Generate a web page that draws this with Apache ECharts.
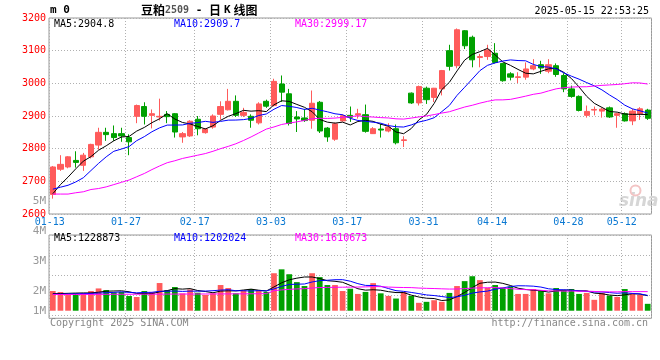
<!DOCTYPE html>
<html><head><meta charset="utf-8">
<script src="https://cdn.jsdelivr.net/npm/echarts@6/dist/echarts.min.js"></script>
<style>html,body{margin:0;padding:0;background:#fff}#c{width:660px;height:360px}</style>
</head><body><div id="c"></div><script>
const dates = ['01-13','01-14','01-15','01-16','01-17','01-20','01-21','01-22','01-23','01-24','01-27',
'02-05','02-06','02-07','02-10','02-11','02-12','02-13','02-14','02-17','02-18','02-19','02-20','02-21','02-24','02-25','02-26','02-27','02-28',
'03-03','03-04','03-05','03-06','03-07','03-10','03-11','03-12','03-13','03-14','03-17','03-18','03-19','03-20','03-21','03-24','03-25','03-26','03-27','03-28','03-31',
'04-01','04-02','04-03','04-07','04-08','04-09','04-10','04-11','04-14','04-15','04-16','04-17','04-18','04-21','04-22','04-23','04-24','04-25','04-28','04-29','04-30',
'05-06','05-07','05-08','05-09','05-12','05-13','05-14','05-15'];
const tickLabels = ['01-13','01-27','02-17','03-03','03-17','03-31','04-14','04-28','05-12'];
const opens = [2660,2737,2744,2764,2749,2775,2811,2850,2846,2846,
2834,2899,2929,2902,2897,2905,2907,2836,2839,2890,
2849,2866,2905,2919,2945,2902,2899,2879,2945,2932,
2998,2968,2897,2894,2887,2942,2863,2829,2885,2902,
2903,2904,2846,2860,2854,2861,2825,2970,2940,2985,
2957,2983,3100,3054,3161,3141,3079,3082,3092,3061,
3029,3018,3019,3044,3057,3037,3054,3024,2983,2960,
2902,2918,2915,2925,2902,2907,2885,2907,2918];
const closes = [2744,2752,2775,2758,2780,2813,2850,2843,2834,2839,
2821,2932,2899,2907,2899,2898,2851,2846,2884,2861,
2860,2900,2929,2945,2902,2911,2887,2937,2930,3006,
2973,2877,2891,2886,2939,2854,2836,2876,2901,2896,
2907,2853,2861,2857,2866,2818,2827,2940,2990,2950,
2985,3039,3052,3164,3115,3072,3082,3102,3064,3008,
3019,3020,3044,3054,3047,3057,3027,2983,2960,2917,
2914,2920,2921,2897,2907,2885,2915,2922,2893];
const lows = [2647,2732,2740,2742,2732,2770,2797,2824,2824,2821,
2780,2878,2874,2862,2886,2878,2834,2818,2836,2841,
2846,2861,2889,2917,2897,2897,2864,2874,2925,2929,
2943,2871,2851,2882,2861,2848,2821,2824,2883,2882,
2892,2849,2845,2834,2850,2813,2805,2937,2932,2937,
2943,2963,3039,3046,3105,3049,3049,3072,3061,3005,
3009,3001,3011,3040,3029,3031,3020,2973,2956,2914,
2895,2902,2895,2894,2864,2883,2872,2888,2888];
const highs = [2747,2780,2777,2792,2787,2815,2864,2864,2871,2864,
2844,2935,2942,2920,2953,2915,2909,2851,2887,2900,
2863,2905,2945,2983,2963,2925,2905,2942,2950,3014,
3024,2983,2915,2922,2978,2946,2866,2880,2905,2929,
2922,2935,2866,2876,2878,2874,2838,2972,2993,2990,
2986,3041,3118,3168,3163,3146,3090,3118,3123,3062,
3034,3034,3064,3074,3069,3074,3061,3031,2993,2963,
2932,2929,2925,2929,2909,2911,2922,2927,2922];
const volumes = [1675000,1590000,1335000,1471000,1505000,1675000,1896000,1760000,1556000,1590000,
1250000,1165000,1675000,1590000,2355000,1760000,2015000,1471000,1811000,1531000,
1344000,1480000,2185000,1930000,1480000,1735000,1845000,1735000,1599000,3189000,
3520000,3104000,2432000,2100000,3189000,2857000,2185000,2185000,1675000,1871000,
1429000,1599000,2347000,1480000,1259000,1037000,1599000,1259000,672000,757000,
893000,757000,1514000,2100000,2517000,2934000,2602000,1956000,2185000,1956000,
2041000,1429000,1429000,1845000,1735000,1480000,1930000,1760000,1845000,1429000,
1514000,927000,1514000,1284000,1173000,1845000,1429000,1344000,587000];
// moving-average values before a full window exists
const ma5Head = [2662,2690,2713,2738];
const ma10Head = [2676,2682,2688,2698,2711,2733,2755,2775,2792];
const ma30Head = [2661,2661,2661,2665,2668,2675,2678,2683,2690,2697,2704,2714,2724,2736,2747,2757,2763,2770,2775,2780,2785,2792,2800,2807,2815,2825,2836,2848,2860];
const vma5Head = [1450000,1460000,1480000,1500000];
const vma10Head = [1400000,1410000,1420000,1430000,1450000,1470000,1500000,1530000,1560000];
const vma30Head = [1380000,1380000,1380000,1380000,1385000,1390000,1390000,1395000,1400000,1400000,1400000,1405000,1405000,1410000,1410000,1415000,1415000,1420000,1420000,1420000,1425000,1425000,1430000,1430000,1435000,1435000,1440000,1445000,1450000];
const priceLegend = ['MA5:2904.8','MA10:2909.7','MA30:2999.17'];
const volLegend = ['MA5:1228873','MA10:1202024','MA30:1610673'];
const volTickLabels = [1,2,3,4,5];

function calcMA(vals, n, head){
  return vals.map((v,i)=>{
    if(i < n-1) return head[i];
    let s = 0; for(let k=i-n+1;k<=i;k++) s += vals[k];
    return +(s/n).toFixed(2);
  });
}
const RED = '#ff5b5b', GREEN = '#00a000';
const MONO = 'DejaVu Sans Mono';
const kData = opens.map((o,i)=>[o, closes[i], lows[i], highs[i]]);
const volData = volumes.map((v,i)=>({value:v, itemStyle:{color: closes[i]>=opens[i]?RED:GREEN}}));
const isTick = (idx, val) => tickLabels.indexOf(val) >= 0;
const dotted = {color:'#b0b0b0', width:1, type:[1,2]};
const L = 49, W = 602.5;

const chart = echarts.init(document.getElementById('c'), null, {renderer:'canvas'});
const txt = (text, left, top, color, extra) => Object.assign({
  text, left, top, padding:0, itemGap:0,
  textStyle:{fontFamily:MONO, fontSize:10, fontWeight:'normal', color, lineHeight:12}
}, extra||{});

chart.setOption({
  animation:false,
  backgroundColor:'#fff',
  title:[
    txt('m 0', 50, 4, '#000', {textStyle:{fontFamily:MONO, fontSize:11, fontWeight:'bold', color:'#000', lineHeight:13}}),
    {text:'{a|豆粕}{b|2509}{s| - }{a|日}{k|K}{a|线图}', left:141, top:3, padding:0,
     textStyle:{rich:{
       a:{fontFamily:'Noto Sans CJK SC', fontSize:12, color:'#000', lineHeight:15},
       b:{fontFamily:MONO, fontSize:10, color:'#555', lineHeight:15},
       s:{fontFamily:MONO, fontSize:11, color:'#000', lineHeight:15},
       k:{fontFamily:MONO, fontSize:11, fontWeight:'bold', color:'#000', lineHeight:15, padding:[0,3]}
     }}},
    txt('2025-05-15 22:53:25', null, 5, '#000', {right:11}),
    txt(priceLegend[0], 54, 18, '#000'),
    txt(priceLegend[1], 174, 18, '#0000ff'),
    txt(priceLegend[2], 295, 18, '#ff00ff'),
    txt(volLegend[0], 54, 232, '#000'),
    txt(volLegend[1], 174, 232, '#0000ff'),
    txt(volLegend[2], 295, 232, '#ff00ff'),
    txt('Copyright 2025 SINA.COM', 50, 317, '#888'),
    txt('http://finance.sina.com.cn', null, 317, '#888', {right:12})
  ],
  graphic:[
    {type:'text', left:619, top:193, z:0, style:{text:'sina', fontSize:17, fontStyle:'italic', fontWeight:'bold', fontFamily:'DejaVu Sans', fill:'#d6d6d6'}},
    {type:'circle', left:628, top:183, z:0, shape:{r:5}, style:{fill:'none', stroke:'#f3c4c4', lineWidth:2}}
  ],
  grid:[
    {left:L, top:18, width:W, height:196, show:true, borderColor:'#999', borderWidth:1},
    {left:L, top:235, width:W, height:83.3, show:true, borderColor:'#999', borderWidth:1},
    {left:L, top:235, width:W, height:80},
    {left:L, top:200.7, width:W, height:120}
  ],
  xAxis:[
    {type:'category', gridIndex:0, data:dates, boundaryGap:true,
     axisLine:{show:false}, axisTick:{show:false},
     axisLabel:{interval:isTick, color:'#0a78d2', fontFamily:MONO, fontSize:10, margin:3, padding:[0,6,0,0]},
     splitLine:{show:true, interval:isTick, lineStyle:dotted}},
    {type:'category', gridIndex:1, data:dates, boundaryGap:true,
     axisLine:{show:false}, axisTick:{show:false}, axisLabel:{show:false},
     splitLine:{show:true, interval:isTick, lineStyle:dotted}},
    {type:'category', gridIndex:2, data:dates, show:false},
    {type:'category', gridIndex:3, data:dates, show:false}
  ],
  yAxis:[
    {type:'value', gridIndex:0, min:2600, max:3200, interval:100,
     axisLine:{show:false}, axisTick:{show:false},
     axisLabel:{color:'#ff0000', fontFamily:MONO, fontSize:10, margin:3, formatter:v => String(v)},
     splitLine:{show:true, lineStyle:dotted}},
    {type:'value', gridIndex:1, min:-644000, max:6440000, show:false, splitLine:{show:false}},
    {type:'value', gridIndex:2, min:0, max:4, interval:1,
     axisLine:{show:false}, axisTick:{show:false}, axisLabel:{show:false},
     splitLine:{show:true, lineStyle:dotted}},
    {type:'value', gridIndex:3, min:volTickLabels[0], max:volTickLabels[volTickLabels.length-1], interval:1,
     axisLine:{show:false}, axisTick:{show:false}, splitLine:{show:false},
     axisLabel:{color:'#999', fontFamily:MONO, fontSize:11, margin:3,
       formatter:v => v===1 ? '{lift|1M}' : v+'M',
       rich:{lift:{color:'#999', fontFamily:MONO, fontSize:11, padding:[0,0,20,0]}}}}
  ],
  series:[
    {type:'candlestick', xAxisIndex:0, yAxisIndex:0, data:kData, barWidth:'75%', z:2,
     itemStyle:{color:RED, color0:GREEN, borderColor:RED, borderColor0:GREEN, borderWidth:1}},
    {type:'line', xAxisIndex:0, yAxisIndex:0, data:calcMA(closes,5,ma5Head), symbol:'none', z:5, lineStyle:{color:'#000', width:1}},
    {type:'line', xAxisIndex:0, yAxisIndex:0, data:calcMA(closes,10,ma10Head), symbol:'none', z:5, lineStyle:{color:'#0000ff', width:1}},
    {type:'line', xAxisIndex:0, yAxisIndex:0, data:calcMA(closes,30,ma30Head), symbol:'none', z:5, lineStyle:{color:'#ff00ff', width:1}},
    {type:'bar', xAxisIndex:1, yAxisIndex:1, data:volData, barWidth:'75%', z:2},
    {type:'line', xAxisIndex:1, yAxisIndex:1, data:calcMA(volumes,5,vma5Head), symbol:'none', z:5, lineStyle:{color:'#000', width:1}},
    {type:'line', xAxisIndex:1, yAxisIndex:1, data:calcMA(volumes,10,vma10Head), symbol:'none', z:5, lineStyle:{color:'#0000ff', width:1}},
    {type:'line', xAxisIndex:1, yAxisIndex:1, data:calcMA(volumes,30,vma30Head), symbol:'none', z:5, lineStyle:{color:'#ff00ff', width:1}}
  ]
});
</script></body></html>
